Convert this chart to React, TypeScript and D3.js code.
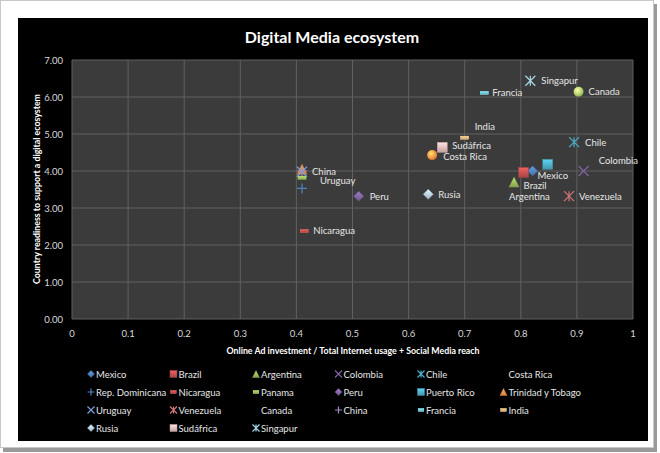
import React from "react";
import * as d3 from "d3";

const countries = [
  "Mexico", "Brazil", "Argentina", "Colombia", "Chile", "Costa Rica",
  "Rep. Dominicana", "Nicaragua", "Panama", "Peru", "Puerto Rico", "Trinidad y Tobago",
  "Uruguay", "Venezuela", "Canada", "China", "Francia", "India",
  "Rusia", "Sudáfrica", "Singapur",
];
const xValues = [
  0.821, 0.805, 0.788, 0.912, 0.895, 0.642,
  0.41, 0.414, 0.41, 0.511, 0.848, 0.41,
  0.41, 0.886, 0.903, 0.41, 0.735, 0.70,
  0.635, 0.66, 0.817,
];
const yValues = [
  4.0, 3.96, 3.70, 4.0, 4.78, 4.43,
  3.53, 2.38, 3.82, 3.32, 4.18, 4.05,
  3.98, 3.32, 6.14, 4.0, 6.11, 4.9,
  3.37, 4.64, 6.44,
];
const xTicks = [0, 0.1, 0.2, 0.3, 0.4, 0.5, 0.6, 0.7, 0.8, 0.9, 1];
const yTicks = [0, 1, 2, 3, 4, 5, 6, 7];

// styles (separate from data)
const markerTypes = [
  "diamond", "square", "triangle", "x", "star", "circle",
  "plus", "dash", "dash", "diamond", "square", "triangle",
  "x", "star", "circle", "plus", "dash", "dash",
  "diamond", "square", "star",
];
const markerColors = [
  "#4f81bd", "#c0504d", "#9bbb59", "#8064a2", "#4bacc6", "#f79646",
  "#4f81bd", "#c0504d", "#9bbb59", "#8064a2", "#4bacc6", "#f79646",
  "#7f9fd6", "#d47575", "#b5d36e", "#9f8bc4", "#6fc0d8", "#f9b07a",
  "#b9cde5", "#e6b9b8", "#a9d8e6",
];
const legendHasMarker = countries.map((c) => c !== "Costa Rica" && c !== "Canada");
// label offsets relative to marker (layout)
const labelDx = [5, 0, -5, 15, 11, 11, 0, 9, 0, 11, 0, 0, 18, 10, 10, 10, 8, 10, 10, 10, 11];
const labelDy = [4, 13, 14, -11, 0, 1.5, 0, 0, 0, 0, 0, 0, 9, 0, 0, 0, 0, -11, 0, -1.5, 0];
const showLabel = [true, true, true, true, true, true, false, true, false, true, false, false,
  true, true, true, true, true, true, true, true, true];

const W = 660, H = 453;
const plot = { left: 72, right: 633, top: 60, bottom: 319 };
const FONT = "Lato, 'Open Sans', sans-serif";

function Marker({ type, color, id, size }: { type: string; color: string; id: string; size: number }) {
  const s = size / 2;
  const c = d3.color(color)!;
  const light = c.brighter(0.7).formatHex();
  const dark = c.darker(0.5).formatHex();
  const fill = `url(#${id})`;
  switch (type) {
    case "diamond":
      return <path d={`M0,${-s}L${s},0L0,${s}L${-s},0Z`} fill={fill} stroke={dark} strokeWidth={0.5} />;
    case "square":
      return <rect x={-s} y={-s} width={size} height={size} fill={fill} stroke={dark} strokeWidth={0.5} />;
    case "triangle":
      return <path d={`M0,${-s}L${s},${s}L${-s},${s}Z`} fill={fill} stroke={dark} strokeWidth={0.5} />;
    case "circle":
      return <circle r={s} fill={`url(#${id}r)`} />;
    case "x":
      return <path d={`M${-s},${-s}L${s},${s}M${s},${-s}L${-s},${s}`} stroke={color} strokeWidth={1.2} fill="none" />;
    case "star":
      return <path d={`M${-s},${-s}L${s},${s}M${s},${-s}L${-s},${s}M0,${-s}L0,${s}`} stroke={color} strokeWidth={1.2} fill="none" />;
    case "plus":
      return <path d={`M${-s},0L${s},0M0,${-s}L0,${s}`} stroke={color} strokeWidth={1.2} fill="none" />;
    case "dash":
      return <rect x={-s * 0.8} y={-1.5} width={s * 1.6} height={3} fill={fill} stroke={light} strokeWidth={0.5} />;
    default:
      return null;
  }
}

export default function App() {
  const x = d3.scaleLinear().domain([0, 1]).range([plot.left, plot.right]);
  const y = d3.scaleLinear().domain([0, 7]).range([plot.bottom, plot.top]);

  const legendCols = [91, 173.5, 256, 338.5, 421, 503.5];
  const legendRows = [374, 392, 410, 428];

  return (
    <svg width={W} height={H} style={{ position: "absolute", left: 0, top: 0, display: "block" }}>
      <defs>
        {markerColors.map((col, i) => {
          const c = d3.color(col)!;
          return (
            <React.Fragment key={i}>
              <linearGradient id={`g${i}`} x1="0" y1="0" x2="0" y2="1">
                <stop offset="0%" stopColor={c.brighter(0.6).formatHex()} />
                <stop offset="100%" stopColor={c.darker(0.4).formatHex()} />
              </linearGradient>
              <radialGradient id={`g${i}r`} cx="0.4" cy="0.35" r="0.7">
                <stop offset="0%" stopColor={c.brighter(1.2).formatHex()} />
                <stop offset="60%" stopColor={col} />
                <stop offset="100%" stopColor={c.darker(0.8).formatHex()} />
              </radialGradient>
            </React.Fragment>
          );
        })}
      </defs>
      {/* frame with shadow */}
      <rect x={3} y={4} width={654} height={448} fill="#9a9a9a" />
      <rect x={0.5} y={0.5} width={653} height={447} fill="#ffffff" stroke="#c8c8c8" />
      <rect x={18} y={18} width={630} height={423} fill="#000000" />

      <text x={332} y={43} textAnchor="middle" fill="#ffffff" fontFamily={FONT} fontWeight="bold" fontSize={16}>
        Digital Media ecosystem
      </text>

      {/* plot area */}
      <rect x={plot.left} y={plot.top} width={plot.right - plot.left} height={plot.bottom - plot.top} fill="#3b3b3b" />
      {xTicks.map((t) => (
        <line key={`vx${t}`} x1={x(t)} x2={x(t)} y1={plot.top} y2={plot.bottom} stroke="#616161" strokeWidth={1} />
      ))}
      {yTicks.map((t) => (
        <line key={`hy${t}`} x1={plot.left} x2={plot.right} y1={y(t)} y2={y(t)} stroke="#616161" strokeWidth={1} />
      ))}

      {xTicks.map((t) => (
        <text key={`xl${t}`} x={x(t)} y={337} textAnchor="middle" fill="#d9d9d9" fontFamily={FONT} fontSize={9.5}>
          {String(t)}
        </text>
      ))}
      {yTicks.map((t) => (
        <text key={`yl${t}`} x={63} y={y(t) + 3.5} textAnchor="end" fill="#d9d9d9" fontFamily={FONT} fontSize={9.5}>
          {t.toFixed(2)}
        </text>
      ))}
      <text x={353} y={354} textAnchor="middle" fill="#ffffff" fontFamily={FONT} fontWeight="bold" fontSize={8.8}>
        Online Ad investment / Total Internet usage + Social Media reach
      </text>
      <text transform={`translate(40,189) rotate(-90)`} textAnchor="middle" fill="#ffffff" fontFamily={FONT} fontWeight="bold" fontSize={8.8}>
        Country readiness to support a digital ecosystem
      </text>

      {/* points */}
      {countries.map((c, i) => (
        <g key={`p${i}`} transform={`translate(${x(xValues[i])},${y(yValues[i])})`}>
          <Marker type={markerTypes[i]} color={markerColors[i]} id={`g${i}`} size={10} />
        </g>
      ))}
      {countries.map((c, i) =>
        showLabel[i] ? (
          <text key={`l${i}`} x={x(xValues[i]) + labelDx[i]} y={y(yValues[i]) + labelDy[i] + 3.5}
            fill="#e6e6e6" fontFamily={FONT} fontSize={9.5}>
            {c}
          </text>
        ) : null
      )}

      {/* legend */}
      {countries.map((c, i) => {
        const col = i % 6;
        const row = Math.floor(i / 6);
        const lx = legendCols[col];
        const ly = legendRows[row];
        return (
          <g key={`lg${i}`}>
            {legendHasMarker[i] && (
              <g transform={`translate(${lx},${ly})`}>
                <Marker type={markerTypes[i]} color={markerColors[i]} id={`g${i}`} size={7} />
              </g>
            )}
            <text x={lx + 5} y={ly + 3.5} fill="#e6e6e6" fontFamily={FONT} fontSize={9.5}>
              {c}
            </text>
          </g>
        );
      })}
    </svg>
  );
}
